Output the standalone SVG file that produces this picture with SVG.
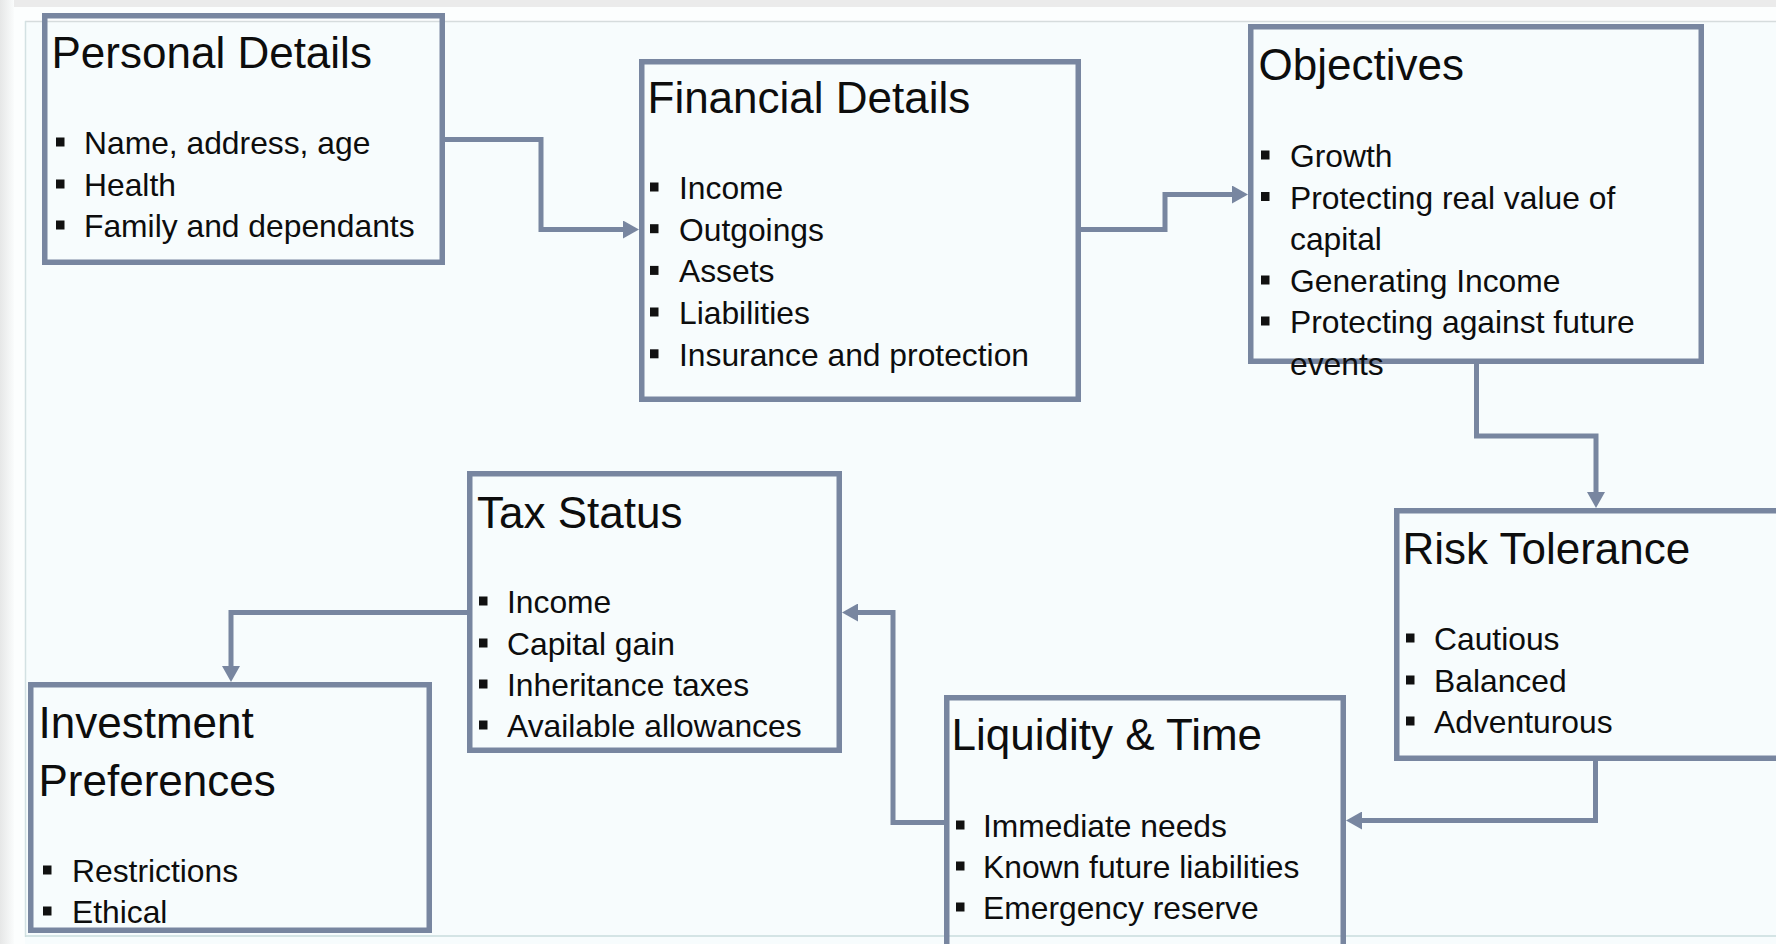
<svg xmlns="http://www.w3.org/2000/svg" width="1776" height="944" viewBox="0 0 1776 944">
<style>
.box{fill:none;stroke:#7886a0;stroke-width:5.5}
.conn{fill:none;stroke:#7886a0;stroke-width:5}
.title{font-family:"Liberation Sans",Arial,sans-serif;font-size:44px;fill:#0d0d0d}
.item{font-family:"Liberation Sans",Arial,sans-serif;font-size:31.8px;fill:#0d0d0d}
.bul{fill:#111}
</style>
<defs>
<linearGradient id="lg" x1="0" x2="1" y1="0" y2="0">
<stop offset="0" stop-color="#e6e7e7"/>
<stop offset="1" stop-color="#fafcfc"/>
</linearGradient>
<marker id="ah" markerUnits="userSpaceOnUse" markerWidth="16" markerHeight="18" viewBox="0 0 16 18" refX="4" refY="9" orient="auto">
<path d="M0,0 L16,9 L0,18 z" fill="#7886a0"/>
</marker>
</defs>
<g id="background">
<rect x="0" y="0" width="1776" height="944" fill="#f7fcfd"/>
<rect x="0" y="0" width="1776" height="21" fill="#fcfefe"/>
<rect x="0" y="0" width="1776" height="7" fill="#ebebeb"/>
<rect x="0" y="0" width="14" height="944" fill="url(#lg)"/>
<rect x="14" y="7" width="11" height="937" fill="#fcfefe"/>
<line x1="25" y1="21.5" x2="1776" y2="21.5" stroke="#d6dcdd" stroke-width="1.5"/>
<line x1="25.5" y1="21" x2="25.5" y2="937" stroke="#d3e1e3" stroke-width="1.5"/>
<line x1="25" y1="936" x2="1776" y2="936" stroke="#c8dcdc" stroke-width="1.5"/>
</g>
<g id="connectors">
<path class="conn" d="M445,139.5 H541 V229.5 H627" marker-end="url(#ah)"/>
<path class="conn" d="M1081,229.5 H1165 V194.5 H1236" marker-end="url(#ah)"/>
<path class="conn" d="M1476.5,364 V436 H1596 V496" marker-end="url(#ah)"/>
<path class="conn" d="M1595.5,761 V820.5 H1358" marker-end="url(#ah)"/>
<path class="conn" d="M944,822.5 H893 V612.5 H854" marker-end="url(#ah)"/>
<path class="conn" d="M467,612.5 H231 V670" marker-end="url(#ah)"/>
</g>
<g id="personal-details">
<rect class="box" x="44.75" y="15.75" width="397.5" height="246.5"/>
<text class="title" x="51.5" y="68">Personal Details</text>
<rect class="bul" x="56" y="137.5" width="8.5" height="9"/>
<rect class="bul" x="56" y="179.5" width="8.5" height="9"/>
<rect class="bul" x="56" y="220.5" width="8.5" height="9"/>
<text class="item" x="84" y="154">Name, address, age</text>
<text class="item" x="84" y="196">Health</text>
<text class="item" x="84" y="237">Family and dependants</text>
</g>
<g id="financial-details">
<rect class="box" x="641.75" y="61.75" width="436.5" height="337.5"/>
<text class="title" x="647.5" y="113">Financial Details</text>
<rect class="bul" x="650" y="182.5" width="8.5" height="9"/>
<rect class="bul" x="650" y="224.2" width="8.5" height="9"/>
<rect class="bul" x="650" y="265.9" width="8.5" height="9"/>
<rect class="bul" x="650" y="307.5" width="8.5" height="9"/>
<rect class="bul" x="650" y="349.3" width="8.5" height="9"/>
<text class="item" x="679" y="199">Income</text>
<text class="item" x="679" y="240.7">Outgoings</text>
<text class="item" x="679" y="282.4">Assets</text>
<text class="item" x="679" y="324">Liabilities</text>
<text class="item" x="679" y="365.8">Insurance and protection</text>
</g>
<g id="objectives">
<rect class="box" x="1250.75" y="26.75" width="450.5" height="334.5"/>
<text class="title" x="1258.5" y="80">Objectives</text>
<rect class="bul" x="1261" y="150.5" width="8.5" height="9"/>
<rect class="bul" x="1261" y="192" width="8.5" height="9"/>
<rect class="bul" x="1261" y="275.5" width="8.5" height="9"/>
<rect class="bul" x="1261" y="316.5" width="8.5" height="9"/>
<text class="item" x="1290" y="167">Growth</text>
<text class="item" x="1290" y="208.5">Protecting real value of</text>
<text class="item" x="1290" y="250">capital</text>
<text class="item" x="1290" y="292">Generating Income</text>
<text class="item" x="1290" y="333">Protecting against future</text>
<text class="item" x="1290" y="374.5">events</text>
</g>
<g id="risk-tolerance">
<rect class="box" x="1396.75" y="510.75" width="420" height="247.5"/>
<text class="title" x="1402.5" y="564">Risk Tolerance</text>
<rect class="bul" x="1406" y="633.5" width="8.5" height="9"/>
<rect class="bul" x="1406" y="675.5" width="8.5" height="9"/>
<rect class="bul" x="1406" y="716.5" width="8.5" height="9"/>
<text class="item" x="1434" y="650">Cautious</text>
<text class="item" x="1434" y="692">Balanced</text>
<text class="item" x="1434" y="733">Adventurous</text>
</g>
<g id="liquidity-time">
<rect class="box" x="946.75" y="697.75" width="396.5" height="280"/>
<text class="title" x="951.5" y="750">Liquidity &amp; Time</text>
<rect class="bul" x="956" y="820.5" width="8.5" height="9"/>
<rect class="bul" x="956" y="861.5" width="8.5" height="9"/>
<rect class="bul" x="956" y="902.5" width="8.5" height="9"/>
<text class="item" x="983" y="837">Immediate needs</text>
<text class="item" x="983" y="878">Known future liabilities</text>
<text class="item" x="983" y="919">Emergency reserve</text>
</g>
<g id="tax-status">
<rect class="box" x="469.75" y="473.75" width="369.5" height="276.5"/>
<text class="title" x="477" y="528">Tax Status</text>
<rect class="bul" x="479" y="596.5" width="8.5" height="9"/>
<rect class="bul" x="479" y="638.5" width="8.5" height="9"/>
<rect class="bul" x="479" y="679.5" width="8.5" height="9"/>
<rect class="bul" x="479" y="720.5" width="8.5" height="9"/>
<text class="item" x="507" y="613">Income</text>
<text class="item" x="507" y="655">Capital gain</text>
<text class="item" x="507" y="696">Inheritance taxes</text>
<text class="item" x="507" y="737">Available allowances</text>
</g>
<g id="investment-preferences">
<rect class="box" x="30.75" y="684.75" width="398.5" height="245.5"/>
<text class="title" x="38.5" y="738">Investment</text>
<text class="title" x="38.5" y="796">Preferences</text>
<rect class="bul" x="43" y="865.5" width="8.5" height="9"/>
<rect class="bul" x="43" y="906.5" width="8.5" height="9"/>
<text class="item" x="72" y="882">Restrictions</text>
<text class="item" x="72" y="923">Ethical</text>
</g>
</svg>
